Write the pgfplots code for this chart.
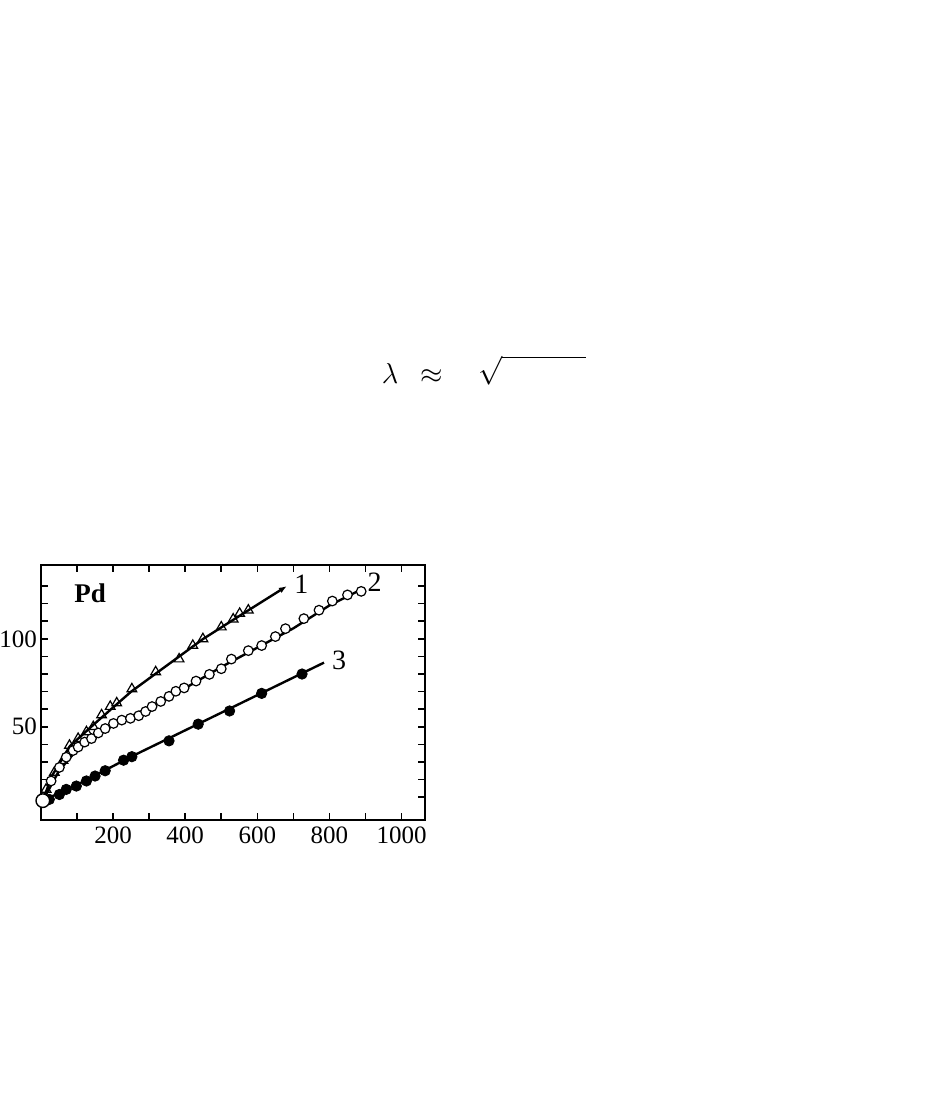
\documentclass[border=0pt]{standalone}
\usepackage{pgfplots}
\pgfplotsset{compat=1.18}
\usepackage{fontspec}
\setmainfont{Liberation Serif}
\usetikzlibrary{arrows.meta}
\begin{document}
\begin{tikzpicture}
\path[use as bounding box] (0,0) rectangle (470.5pt,549pt);
% formula fragment above the chart
\node[anchor=base] at (195pt,357pt) {\fontsize{15}{18}\selectfont$\lambda$};
\node[anchor=base] at (216pt,357pt) {\fontsize{15}{18}\selectfont$\approx$};
\node[anchor=base west,inner sep=0pt] at (239pt,358pt) {\fontsize{15}{18}\selectfont$\sqrt{\vphantom{X}\hspace{42pt}}$};
\begin{axis}[
  at={(20.5pt,139pt)}, anchor=south west,
  width=192pt, height=127.5pt, scale only axis,
  xmin=0, xmax=1065, ymin=-3, ymax=142,
  axis line style={line width=1pt},
  xtick={100,200,...,1000},
  xticklabels={,200,,400,,600,,800,,1000},
  ytick={10,20,...,130},
  yticklabels={,,,,50,,,,,100,,,},
  tick align=inside, major tick length=3.5pt,
  tick style={line width=0.8pt,black},
  xtick pos=both, ytick pos=both,
  ticklabel style={font=\fontsize{12.5}{14}\selectfont},
  yticklabel style={xshift=1.5pt},
  /pgf/number format/assume math mode=true,
  clip=false,
]
% fitted lines
\addplot[black, line width=1.2pt, -{Latex[length=4pt,width=3pt]}] coordinates {
 (5,8) (30,22) (80,39) (150,52) (250,70) (350,85) (450,100) (550,113) (682,130)};
\addplot[black, line width=1.2pt] coordinates {
 (5,8) (50,25) (100,37) (200,51) (300,61) (400,72) (500,84) (600,95) (700,106) (800,119) (897,129)};
\addplot[black, line width=1.2pt] coordinates {
 (5,8) (100,17) (250,33) (400,48) (600,68) (785,86.5)};
% series 1: open triangles
\addplot[only marks, mark=triangle, mark size=2.8pt, mark options={fill=white, line width=0.6pt}] coordinates {
 (14,14.4) (37,24) (61,30.8) (79,39.4) (103,43.3) (126,47.1) (145,50) (168,56.7) (192,61.5) (210,63.5)
 (252,71.5) (318,81.2) (383,88.5) (421,96.2) (449,100) (500,106.7) (533,111.2) (551,114.4) (575,116.3)};
% series 2: open circles
\addplot[only marks, mark=*, mark size=2.4pt, mark options={fill=white, line width=0.6pt}] coordinates {
 (28,19.2) (51,26.9) (70,32.7) (89,36.5) (103,38.5) (121,41.3) (140,43.3) (159,46.5) (178,49) (201,51.9)
 (224,53.8) (248,54.8) (271,56.3) (290,58.7) (308,61.5) (332,64.4) (355,67.3) (374,70.2) (397,72.1)
 (430,76) (467,79.8) (500,83) (528,88.5) (575,93.3) (612,96.2) (650,101.3) (678,105.8) (729,111.5)
 (771,116.3) (808,121.5) (850,125) (888,127)};
% series 3: filled circles
\addplot[only marks, mark=*, mark size=2.6pt, mark options={fill=black}] coordinates {
 (23,8.7) (51,11.5) (70,14.4) (98,16.3) (126,19.2) (150,22) (178,25) (229,31) (252,33)
 (355,42) (436,51.5) (523,59) (612,69) (724,80)};
% common start point
\addplot[only marks, mark=*, mark size=3.4pt, mark options={fill=white, line width=0.7pt}] coordinates {(5,8)};
\node[font=\fontsize{14}{16}\selectfont] at (axis cs:722,131) {1};
\node[font=\fontsize{14}{16}\selectfont] at (axis cs:925,132) {2};
\node[font=\fontsize{14}{16}\selectfont] at (axis cs:827,88) {3};
\node[font=\bfseries\fontsize{13.5}{16}\selectfont] at (axis cs:136,126) {Pd};
\end{axis}
\end{tikzpicture}
\end{document}
